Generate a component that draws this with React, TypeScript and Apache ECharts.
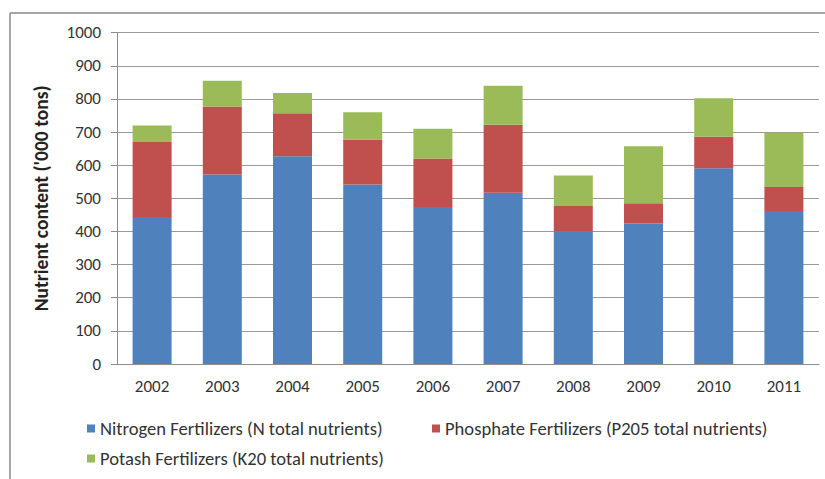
import React, { useEffect, useRef } from "react";
import * as echarts from "echarts";

const years = ["2002", "2003", "2004", "2005", "2006", "2007", "2008", "2009", "2010", "2011"];
const nitrogen = [444, 572, 627, 542, 474, 517, 400, 424, 591, 462];
const phosphate = [226, 205, 130, 136, 146, 205, 77, 61, 95, 72];
const potash = [50, 78, 61, 82, 90, 118, 92, 172, 116, 164];
const seriesNames = [
  "Nitrogen Fertilizers (N total nutrients)",
  "Phosphate Fertilizers (P205 total nutrients)",
  "Potash Fertilizers (K20 total nutrients)",
];
const yAxisTitle = "Nutrient content ('000 tons)";

const FONT = "Carlito, Calibri, Lato, sans-serif";
const colors = ["#4F81BD", "#C0504D", "#9BBB59"];

export default function App() {
  const ref = useRef<HTMLDivElement>(null);
  useEffect(() => {
    document.body.style.margin = "0";
    if (!ref.current) return;
    const chart = echarts.init(ref.current, undefined, { renderer: "svg" });
    const legendText = { fontFamily: FONT, fontSize: 18.6, color: "#333" };
    const legendCommon = {
      itemWidth: 8,
      itemHeight: 8,
      icon: "rect",
      itemGap: 0,
      textStyle: legendText,
      selectedMode: false,
      padding: 0,
    };
    chart.setOption({
      animation: false,
      backgroundColor: "#ffffff",
      color: colors,
      textStyle: { fontFamily: FONT },
      graphic: [
        { type: "line", shape: { x1: 10, y1: 13, x2: 825, y2: 13 }, style: { stroke: "#8a8a8a", lineWidth: 1.5 } },
        { type: "line", shape: { x1: 10, y1: 13, x2: 10, y2: 479 }, style: { stroke: "#8a8a8a", lineWidth: 1.5 } },
      ],
      legend: [
        { ...legendCommon, data: [seriesNames[0]], left: 87, top: 419 },
        { ...legendCommon, data: [seriesNames[1]], left: 432, top: 419 },
        { ...legendCommon, data: [seriesNames[2]], left: 87, top: 449 },
      ],
      grid: { left: 117, right: 6, top: 32.7, bottom: 115, containLabel: false },
      xAxis: {
        type: "category",
        data: years,
        axisLine: { show: true, lineStyle: { color: "#8c8c8c", width: 1 } },
        axisTick: { show: false },
        axisLabel: { fontFamily: FONT, fontSize: 17, color: "#333", margin: 14 },
      },
      yAxis: {
        type: "value",
        min: 0,
        max: 1000,
        interval: 100,
        name: yAxisTitle,
        nameLocation: "middle",
        nameRotate: 90,
        nameGap: 66,
        nameTextStyle: { fontFamily: FONT, fontSize: 19.5, fontWeight: "bold", color: "#222" },
        axisLine: { show: true, lineStyle: { color: "#8c8c8c", width: 1 } },
        axisTick: { show: true, length: 6, lineStyle: { color: "#8c8c8c" } },
        axisLabel: {
          fontFamily: FONT,
          fontSize: 17,
          color: "#333",
          margin: 16,
          formatter: (v: number) => String(v),
        },
        splitLine: { show: true, lineStyle: { color: "#9a9a9a", width: 1 } },
      },
      series: [
        { name: seriesNames[0], type: "bar", stack: "total", data: nitrogen, barWidth: 39 },
        { name: seriesNames[1], type: "bar", stack: "total", data: phosphate, barWidth: 39 },
        { name: seriesNames[2], type: "bar", stack: "total", data: potash, barWidth: 39 },
      ],
    });
    return () => chart.dispose();
  }, []);
  return <div ref={ref} style={{ width: 825, height: 479 }} />;
}
